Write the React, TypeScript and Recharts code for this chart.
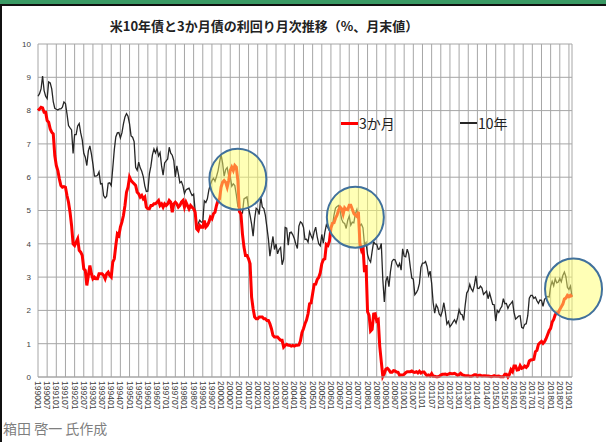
import { LineChart, Line, XAxis, YAxis, CartesianGrid, Legend, ReferenceDot } from 'recharts';

const YEARS = [
  1990, 1991, 1992, 1993, 1994, 1995, 1996, 1997, 1998, 1999,
  2000, 2001, 2002, 2003, 2004, 2005, 2006, 2007, 2008, 2009,
  2010, 2011, 2012, 2013, 2014, 2015, 2016, 2017, 2018, 2019,
];

// 10年債 月末利回り(%)
const YIELD_10Y: number[][] = [
  [8.43, 8.51, 8.65, 9.04, 8.6, 8.43, 8.36, 8.86, 8.83, 8.65, 8.27, 8.07],
  [8.04, 8.02, 8.05, 8.05, 8.1, 8.26, 8.21, 7.9, 7.55, 7.48, 7.42, 6.71],
  [7.28, 7.28, 7.54, 7.61, 7.33, 7.12, 6.72, 6.6, 6.35, 6.79, 6.94, 6.7],
  [6.39, 6.03, 6.03, 6.06, 6.16, 5.8, 5.81, 5.45, 5.38, 5.43, 5.82, 5.83],
  [5.75, 6.27, 6.82, 7.21, 7.33, 7.34, 7.18, 7.33, 7.6, 7.81, 7.91, 7.83],
  [7.6, 7.24, 7.2, 7.07, 6.3, 6.21, 6.45, 6.28, 6.18, 6.02, 5.74, 5.57],
  [5.58, 6.1, 6.33, 6.67, 6.85, 6.73, 6.87, 6.64, 6.74, 6.34, 6.06, 6.43],
  [6.49, 6.55, 6.9, 6.72, 6.66, 6.5, 6.01, 6.34, 6.1, 5.83, 5.87, 5.74],
  [5.51, 5.62, 5.65, 5.67, 5.55, 5.45, 5.49, 5.0, 4.42, 4.61, 4.71, 4.65],
  [4.65, 5.29, 5.24, 5.35, 5.62, 5.78, 5.9, 5.97, 5.88, 6.02, 6.19, 6.45],
  [6.68, 6.42, 6.03, 6.23, 6.29, 6.03, 6.03, 5.73, 5.8, 5.75, 5.47, 5.12],
  [5.11, 4.9, 4.92, 5.35, 5.38, 5.41, 5.07, 4.85, 4.59, 4.23, 4.75, 5.07],
  [5.03, 4.88, 5.42, 5.11, 5.06, 4.86, 4.51, 4.15, 3.63, 3.93, 4.22, 3.83],
  [4.0, 3.7, 3.83, 3.89, 3.37, 3.54, 4.49, 4.47, 3.96, 4.33, 4.35, 4.27],
  [4.16, 3.99, 3.86, 4.53, 4.66, 4.62, 4.5, 4.13, 4.14, 4.05, 4.36, 4.24],
  [4.14, 4.36, 4.5, 4.21, 4.0, 3.94, 4.28, 4.02, 4.34, 4.57, 4.49, 4.39],
  [4.53, 4.55, 4.86, 5.07, 5.12, 5.15, 4.99, 4.74, 4.64, 4.61, 4.46, 4.71],
  [4.83, 4.56, 4.65, 4.63, 4.9, 5.03, 4.78, 4.54, 4.59, 4.48, 3.97, 4.04],
  [3.67, 3.53, 3.45, 3.77, 4.06, 3.99, 3.99, 3.83, 3.85, 4.01, 2.93, 2.25],
  [2.87, 3.02, 2.71, 3.16, 3.47, 3.53, 3.52, 3.4, 3.31, 3.41, 3.21, 3.85],
  [3.63, 3.61, 3.84, 3.69, 3.31, 2.97, 2.94, 2.47, 2.53, 2.63, 2.81, 3.3],
  [3.42, 3.42, 3.47, 3.32, 3.05, 3.18, 2.82, 2.23, 1.92, 2.17, 2.08, 1.89],
  [1.83, 1.98, 2.23, 1.95, 1.59, 1.67, 1.51, 1.57, 1.65, 1.72, 1.62, 1.78],
  [2.02, 1.89, 1.87, 1.7, 2.16, 2.52, 2.6, 2.78, 2.64, 2.57, 2.75, 3.04],
  [2.67, 2.66, 2.73, 2.67, 2.48, 2.53, 2.58, 2.35, 2.52, 2.35, 2.18, 2.17],
  [1.68, 2.0, 1.94, 2.05, 2.12, 2.35, 2.2, 2.21, 2.06, 2.16, 2.21, 2.27],
  [1.94, 1.74, 1.78, 1.83, 1.84, 1.49, 1.46, 1.58, 1.6, 1.84, 2.37, 2.45],
  [2.45, 2.36, 2.4, 2.29, 2.21, 2.31, 2.3, 2.12, 2.33, 2.38, 2.42, 2.4],
  [2.72, 2.87, 2.74, 2.95, 2.83, 2.85, 2.96, 2.86, 3.05, 3.15, 3.01, 2.69],
  [2.63, 2.73, 2.41],
];

// 3か月債 月末利回り(%)
const YIELD_3M: number[][] = [
  [8.0, 8.05, 8.1, 8.08, 7.95, 7.95, 7.7, 7.65, 7.45, 7.35, 7.3, 6.65],
  [6.35, 6.2, 5.95, 5.75, 5.7, 5.72, 5.7, 5.45, 5.25, 4.95, 4.55, 4.0],
  [3.95, 4.05, 4.15, 3.8, 3.75, 3.65, 3.25, 3.2, 2.75, 3.05, 3.35, 3.1],
  [2.95, 3.0, 2.95, 2.95, 3.1, 3.1, 3.1, 3.05, 2.95, 3.1, 3.15, 3.05],
  [3.0, 3.45, 3.55, 3.95, 4.3, 4.25, 4.5, 4.65, 4.85, 5.15, 5.55, 5.7],
  [6.0, 5.9, 5.85, 5.8, 5.75, 5.55, 5.5, 5.4, 5.45, 5.35, 5.4, 5.1],
  [5.05, 5.05, 5.15, 5.15, 5.2, 5.2, 5.25, 5.3, 5.15, 5.2, 5.1, 5.2],
  [5.15, 5.2, 5.3, 5.25, 4.95, 5.2, 5.25, 5.2, 5.1, 5.15, 5.25, 5.3],
  [5.1, 5.25, 5.15, 5.05, 5.15, 5.1, 5.05, 4.95, 4.45, 4.4, 4.55, 4.5],
  [4.5, 4.7, 4.5, 4.55, 4.65, 4.8, 4.75, 4.9, 4.95, 5.15, 5.3, 5.35],
  [5.7, 5.85, 5.9, 5.85, 5.7, 5.9, 6.2, 6.3, 6.2, 6.35, 6.3, 5.9],
  [4.97, 4.9, 4.3, 3.9, 3.65, 3.65, 3.55, 3.4, 2.4, 2.05, 1.8, 1.75],
  [1.75, 1.8, 1.8, 1.8, 1.75, 1.75, 1.7, 1.7, 1.6, 1.45, 1.25, 1.2],
  [1.2, 1.2, 1.15, 1.1, 1.1, 0.9, 0.95, 0.98, 0.95, 0.95, 0.93, 0.95],
  [0.93, 0.95, 0.95, 0.96, 1.08, 1.33, 1.45, 1.6, 1.71, 1.9, 2.2, 2.22],
  [2.5, 2.78, 2.79, 2.93, 2.99, 3.13, 3.4, 3.52, 3.55, 3.98, 3.95, 4.08],
  [4.47, 4.62, 4.63, 4.77, 4.86, 5.01, 5.1, 5.05, 4.89, 5.08, 5.03, 5.02],
  [5.16, 5.16, 5.04, 4.91, 4.86, 4.82, 4.96, 4.01, 3.82, 3.94, 3.15, 3.36],
  [1.96, 1.85, 1.38, 1.43, 1.89, 1.9, 1.68, 1.72, 0.92, 0.46, 0.02, 0.11],
  [0.24, 0.26, 0.21, 0.14, 0.14, 0.19, 0.18, 0.15, 0.14, 0.05, 0.06, 0.06],
  [0.08, 0.13, 0.16, 0.16, 0.16, 0.18, 0.15, 0.14, 0.16, 0.12, 0.17, 0.12],
  [0.15, 0.15, 0.09, 0.04, 0.06, 0.03, 0.1, 0.02, 0.02, 0.01, 0.01, 0.02],
  [0.06, 0.08, 0.08, 0.09, 0.07, 0.09, 0.11, 0.1, 0.1, 0.11, 0.08, 0.05],
  [0.07, 0.11, 0.07, 0.05, 0.04, 0.04, 0.04, 0.02, 0.02, 0.04, 0.07, 0.07],
  [0.02, 0.05, 0.05, 0.03, 0.04, 0.04, 0.03, 0.03, 0.02, 0.01, 0.02, 0.04],
  [0.02, 0.02, 0.03, 0.01, 0.01, 0.01, 0.08, 0.08, 0.0, 0.08, 0.22, 0.16],
  [0.33, 0.33, 0.21, 0.22, 0.34, 0.26, 0.28, 0.33, 0.29, 0.34, 0.48, 0.51],
  [0.52, 0.53, 0.76, 0.8, 0.98, 1.03, 1.07, 1.01, 1.06, 1.15, 1.27, 1.39],
  [1.46, 1.65, 1.73, 1.87, 1.93, 1.93, 2.03, 2.11, 2.19, 2.34, 2.37, 2.45],
  [2.41, 2.45, 2.4],
];

const Y_TICKS = [0, 1, 2, 3, 4, 5, 6, 7, 8, 9, 10];
const LABEL_EVERY = 6; // 目盛ラベルは半年ごと

// 黄色い丸で囲んだ箇所 (年月, 利回り)
const HIGHLIGHTS = [
  { ym: '200012', value: 5.94 },
  { ym: '200705', value: 4.8 },
  { ym: '201904', value: 2.64 },
];

const START_YEAR = YEARS[0];

const ymToIndex = (ym: string) =>
  (Number(ym.slice(0, 4)) - START_YEAR) * 12 + Number(ym.slice(4, 6)) - 1;

const data = YEARS.flatMap((year, yi) =>
  YIELD_10Y[yi].map((v, mi) => ({
    i: yi * 12 + mi,
    ym: `${year}${String(mi + 1).padStart(2, '0')}`,
    y10: v,
    m3: YIELD_3M[yi][mi],
  }))
);

const lastIndex = data.length - 1;
const xTicks = data.filter((d) => d.i % LABEL_EVERY === 0).map((d) => d.i);
const labelOf = (i: number) => data[i]?.ym ?? '';

const JP_FONT = '"Noto Sans CJK JP", "Noto Sans", sans-serif';

function MonthTick({ x, y, payload }: any) {
  return (
    <text
      transform={`translate(${x},${y}) rotate(90)`}
      textAnchor="start"
      dominantBaseline="central"
      fontSize={8.5}
      fill="#404040"
      fontFamily='"Liberation Sans", Arial, sans-serif'
    >
      {labelOf(payload.value)}
    </text>
  );
}

function Highlight({ cx, cy }: any) {
  return (
    <ellipse
      cx={cx}
      cy={cy}
      rx={28.5}
      ry={30.5}
      fill="rgb(255,255,110)"
      fillOpacity={0.5}
      stroke="#41719c"
      strokeWidth={2}
    />
  );
}

function renderLegend(props: any) {
  const items = [...(props.payload ?? [])].reverse();
  return (
    <div style={{ display: 'flex', fontFamily: JP_FONT, fontSize: 14, color: '#222' }}>
      {items.map((it: any) => (
        <div key={it.value} style={{ display: 'flex', alignItems: 'center', width: 119 }}>
          <span
            style={{
              display: 'inline-block',
              width: 17,
              height: it.value === '3か月' ? 3 : 1.5,
              background: it.color,
              marginRight: 1,
            }}
          />
          <span>{it.value}</span>
        </div>
      ))}
    </div>
  );
}

export default function App() {
  return (
    <div
      style={{
        position: 'absolute',
        left: 0,
        top: 0,
        width: 606,
        height: 442,
        background: '#fff',
        overflow: 'hidden',
      }}
    >
      <div style={{ position: 'absolute', left: 0, top: 0, width: 606, height: 4, background: '#3a9a64' }} />
      <div style={{ position: 'absolute', left: 0, top: 4, width: 606, height: 2, background: '#111' }} />
      <div style={{ position: 'absolute', left: 0, top: 4, width: 2, height: 438, background: '#111' }} />

      <div
        style={{
          position: 'absolute',
          left: 0,
          top: 17,
          width: 528,
          textAlign: 'center',
          fontFamily: JP_FONT,
          fontSize: 13,
          fontWeight: 'bold',
          lineHeight: '18px',
          color: '#222',
        }}
      >
        米10年債と3か月債の利回り月次推移（%、月末値）
      </div>

      <div style={{ position: 'absolute', left: 0, top: 0 }}>
        <LineChart
          width={606}
          height={442}
          data={data}
          margin={{ top: 44, right: 34, left: 6, bottom: 25 }}
        >
          <CartesianGrid stroke="#a6a6a6" strokeWidth={1} />
          <XAxis
            dataKey="i"
            type="number"
            domain={[0, lastIndex]}
            ticks={xTicks}
            interval={0}
            tick={<MonthTick />}
            tickLine={false}
            tickSize={0}
            tickMargin={4}
            height={40}
            axisLine={{ stroke: '#a6a6a6' }}
          />
          <YAxis
            domain={[0, 10]}
            ticks={Y_TICKS}
            interval={0}
            width={32}
            tickLine={false}
            axisLine={false}
            tickSize={0}
            tickMargin={7}
            tick={{ fontSize: 8, fill: '#404040', fontFamily: '"Liberation Sans", Arial, sans-serif' }}
          />
          <Line
            type="linear"
            dataKey="y10"
            name="10年"
            stroke="#262626"
            strokeWidth={1.3}
            dot={false}
            isAnimationActive={false}
          />
          <Line
            type="linear"
            dataKey="m3"
            name="3か月"
            stroke="#ff0000"
            strokeWidth={3}
            dot={false}
            isAnimationActive={false}
          />
          {HIGHLIGHTS.map((h) => (
            <ReferenceDot
              key={h.ym}
              x={ymToIndex(h.ym)}
              y={h.value}
              r={29}
              ifOverflow="visible"
              shape={<Highlight />}
            />
          ))}
          <Legend
            layout="horizontal"
            verticalAlign="middle"
            align="center"
            content={renderLegend}
            wrapperStyle={{ position: 'absolute', left: 341, top: 113, width: 240 }}
          />
        </LineChart>
      </div>

      <div
        style={{
          position: 'absolute',
          left: 3,
          top: 419,
          fontFamily: JP_FONT,
          fontSize: 14,
          color: '#7f7f7f',
          lineHeight: '18px',
        }}
      >
        箱田 啓一 氏作成
      </div>
    </div>
  );
}
